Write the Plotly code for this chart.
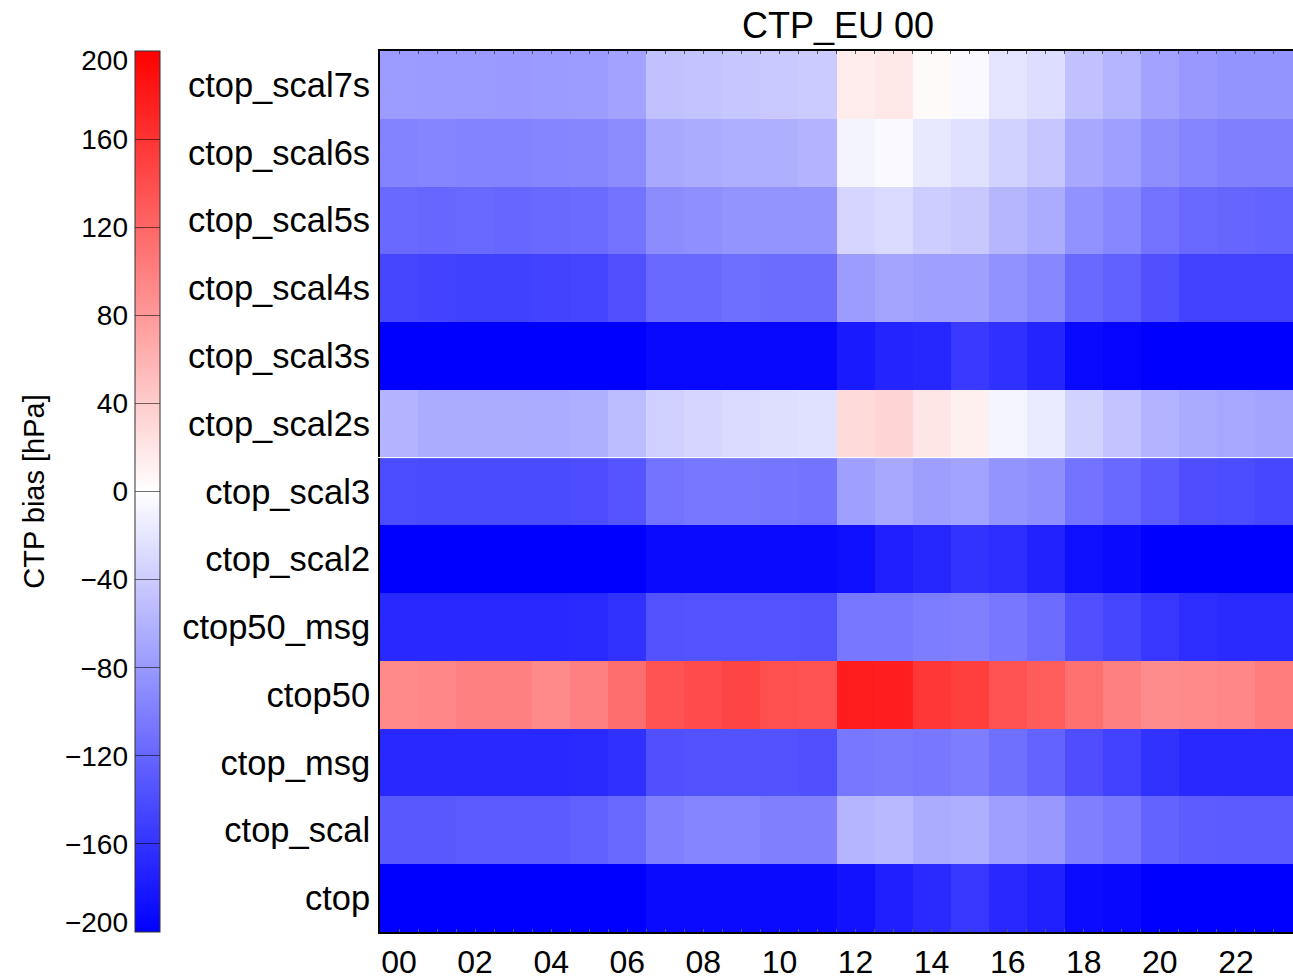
import plotly.graph_objects as go

# ---------------- data ----------------
row_names = ["ctop_scal7s", "ctop_scal6s", "ctop_scal5s", "ctop_scal4s", "ctop_scal3s",
             "ctop_scal2s", "ctop_scal3", "ctop_scal2", "ctop50_msg", "ctop50",
             "ctop_msg", "ctop_scal", "ctop"]

hours = [0, 1, 2, 3, 4, 5, 6, 7, 8, 9, 10, 11, 12, 13, 14, 15, 16, 17, 18, 19, 20, 21, 22, 23]
hour_tick_vals = [0, 2, 4, 6, 8, 10, 12, 14, 16, 18, 20, 22]
hour_tick_text = ["00", "02", "04", "06", "08", "10", "12", "14", "16", "18", "20", "22"]

cbar_min, cbar_max = -200, 200
cbar_ticks = [-200, -160, -120, -80, -40, 0, 40, 80, 120, 160, 200]

ctop_scal7s = [-78, -79, -79, -80, -79, -78, -72, -49, -47, -44, -42, -41,
               15, 18, 4, -5, -21, -27, -49, -59, -72, -81, -84, -84]
ctop_scal6s = [-97, -96, -97, -97, -96, -95, -90, -68, -65, -63, -63, -60,
               -9, -5, -18, -24, -35, -45, -68, -75, -89, -96, -100, -100]
ctop_scal5s = [-118, -119, -118, -119, -118, -116, -110, -90, -88, -84, -84, -84,
               -33, -29, -39, -43, -57, -65, -86, -94, -110, -118, -120, -122]
ctop_scal4s = [-145, -148, -150, -150, -148, -146, -137, -118, -118, -114, -115, -115,
               -78, -71, -75, -75, -86, -94, -118, -125, -137, -149, -149, -149]
ctop_scal3s = [-200, -200, -200, -200, -200, -200, -200, -194, -194, -194, -194, -194,
               -180, -172, -170, -155, -162, -172, -193, -196, -200, -200, -200, -200]
ctop_scal2s = [-60, -65, -65, -65, -66, -63, -53, -37, -33, -29, -26, -24,
               29, 34, 20, 12, -8, -16, -35, -47, -60, -67, -69, -71]
ctop_scal3 = [-141, -142, -142, -142, -142, -140, -133, -110, -107, -106, -108, -110,
              -75, -68, -76, -73, -84, -89, -110, -118, -129, -139, -141, -144]
ctop_scal2 = [-200, -200, -200, -200, -200, -200, -200, -192, -192, -192, -192, -192,
              -188, -176, -170, -160, -165, -173, -188, -192, -200, -200, -200, -200]
ctop50_msg = [-169, -168, -168, -168, -168, -167, -161, -136, -134, -135, -135, -136,
              -107, -106, -102, -100, -107, -115, -137, -145, -157, -165, -167, -167]
ctop50 = [92, 94, 100, 100, 92, 100, 114, 136, 141, 147, 137, 136,
          178, 176, 157, 151, 136, 128, 112, 100, 90, 92, 94, 102]
ctop_msg = [-169, -169, -168, -168, -168, -167, -162, -137, -136, -136, -136, -137,
            -107, -104, -107, -102, -112, -122, -139, -149, -161, -169, -169, -169]
ctop_scal = [-131, -131, -129, -129, -129, -125, -118, -100, -96, -96, -100, -100,
             -59, -55, -65, -63, -75, -81, -100, -107, -122, -128, -129, -129]
ctop = [-200, -200, -200, -200, -200, -200, -200, -192, -192, -192, -192, -192,
        -186, -176, -167, -157, -169, -175, -191, -194, -200, -200, -200, -200]

z_rows = [ctop_scal7s, ctop_scal6s, ctop_scal5s, ctop_scal4s, ctop_scal3s, ctop_scal2s,
          ctop_scal3, ctop_scal2, ctop50_msg, ctop50, ctop_msg, ctop_scal, ctop]

# ---------------- layout constants ----------------
W, H = 1293, 980
FONT = "Liberation Sans, Arial, Helvetica, sans-serif"
plot_left_px = 380
cbar_left_px = 135
cbar_pos = cbar_left_px / W

colorscale = [[0.0, "rgb(0,0,255)"], [0.5, "rgb(255,255,255)"], [1.0, "rgb(255,0,0)"]]

fig = go.Figure()

fig.add_trace(go.Heatmap(
    z=z_rows, x=hours, y=row_names,
    zmin=cbar_min, zmax=cbar_max, colorscale=colorscale,
    colorbar=dict(
        x=cbar_pos, xanchor="left", y=0.5, yanchor="middle",
        len=1, lenmode="fraction", thickness=25, thicknessmode="pixels",
        xpad=0, ypad=0, outlinewidth=1, outlinecolor="#333",
        ticks="inside", ticklen=25, tickwidth=1, tickcolor="rgba(0,0,0,0.55)",
        tickmode="array", tickvals=cbar_ticks, showticklabels=False,
    ),
    hovertemplate="%{y} %{x}: %{z}<extra></extra>",
))

# colour-scale label axes: interior ticks on y2, end ticks nudged inward on y3 / y4
inner_ticks = [t for t in cbar_ticks if cbar_min < t < cbar_max]
for axis_name, vals in (("y2", inner_ticks), ("y3", [cbar_max]), ("y4", [cbar_min])):
    fig.add_trace(go.Scatter(
        x=[hours[0] for _ in vals], y=vals, yaxis=axis_name,
        mode="markers", marker=dict(opacity=0), hoverinfo="skip", showlegend=False,
    ))

sep_y = row_names.index("ctop_scal2s") + 0.5
fig.add_shape(type="line", xref="paper", x0=cbar_pos, x1=1,
              yref="y", y0=sep_y, y1=sep_y, line=dict(color="white", width=1), layer="above")

cb_font = dict(size=28, family=FONT, color="black")
cb_axis_common = dict(
    overlaying="y", anchor="free", position=cbar_pos, side="left",
    range=[cbar_min, cbar_max], tickmode="array", ticks="", tickfont=cb_font,
    ticklabelstandoff=7, showline=False, showgrid=False, zeroline=False, automargin=False,
)

fig.update_layout(
    template="none",
    width=W, height=H,
    margin=dict(l=0, r=0, t=51, b=48, pad=0),
    paper_bgcolor="white", plot_bgcolor="white",
    font=dict(family=FONT, color="black"),
    showlegend=False,
    title=dict(text="CTP_EU 00", font=dict(size=36, family=FONT, color="black"),
               x=838 / W, xref="container", xanchor="center",
               y=1 - 25 / H, yref="container", yanchor="middle"),
    xaxis=dict(
        domain=[plot_left_px / W, 1], range=[-0.5, 23.5],
        tickmode="array", tickvals=hour_tick_vals, ticktext=hour_tick_text,
        ticks="inside", ticklen=3, tickcolor="#555", tickwidth=1,
        minor=dict(dtick=0.5, tick0=0, ticks="inside", ticklen=3, tickcolor="#555"),
        tickfont=dict(size=32, family=FONT, color="black"),
        ticklabelstandoff=1,
        showline=True, linecolor="black", linewidth=2, mirror="ticks",
        showgrid=False, zeroline=False, automargin=False,
    ),
    yaxis=dict(
        domain=[0, 1], type="category", autorange="reversed",
        ticks="", tickfont=dict(size=34.5, family=FONT, color="black"),
        ticklabelstandoff=1,
        showline=True, linecolor="black", linewidth=2, mirror=True,
        showgrid=False, zeroline=False, automargin=False,
    ),
    yaxis2=dict(
        **cb_axis_common, tickvals=inner_ticks,
        title=dict(text="CTP bias [hPa]", font=dict(size=29, family=FONT, color="black"),
                   standoff=10),
    ),
    yaxis3=dict(**cb_axis_common, tickvals=[cbar_max], ticklabelshift=9),
    yaxis4=dict(**cb_axis_common, tickvals=[cbar_min], ticklabelshift=-10),
)

fig.write_html("out.html")
